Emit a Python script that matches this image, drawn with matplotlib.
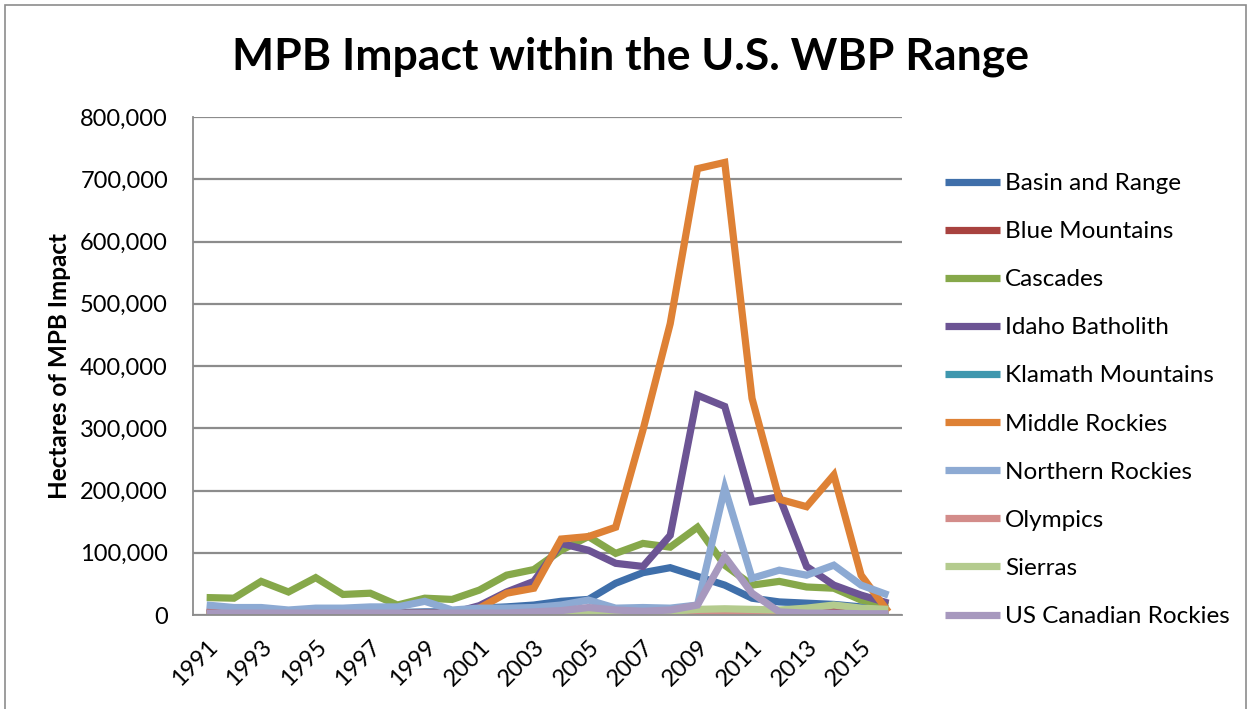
import matplotlib
matplotlib.use("Agg")
import matplotlib.pyplot as plt
from matplotlib.ticker import FuncFormatter, MultipleLocator
from matplotlib.patches import Rectangle

years = list(range(1991, 2017))
series_names = ["Basin and Range", "Blue Mountains", "Cascades", "Idaho Batholith",
                "Klamath Mountains", "Middle Rockies", "Northern Rockies", "Olympics",
                "Sierras", "US Canadian Rockies"]

basin_and_range = [4000, 4000, 4000, 3000, 3000, 3000, 4000, 4000, 5000, 5000, 11000, 13000, 16000,
                   22000, 25000, 51000, 68000, 76000, 62000, 48000, 27000, 21000, 19000, 17000, 13000, 10000]
blue_mountains = [5000, 4000, 4000, 3000, 3000, 3000, 3000, 3000, 3000, 3000, 3000, 3000, 3000,
                  4000, 4000, 5000, 6000, 7000, 8000, 7000, 6000, 4000, 5000, 10000, 6000, 4000]
cascades = [28000, 27000, 54000, 37000, 60000, 33000, 35000, 16000, 27000, 25000, 40000, 64000, 73000,
            104000, 126000, 99000, 115000, 109000, 141000, 80000, 48000, 54000, 45000, 43000, 24000, 16000]
idaho_batholith = [2000, 2000, 2000, 2000, 2000, 2000, 2000, 2000, 2000, 3000, 15000, 37000, 54000,
                   115000, 104000, 83000, 78000, 128000, 353000, 335000, 182000, 190000, 78000, 48000, 32000, 19000]
klamath_mountains = [500] * 26
middle_rockies = [1000, 1000, 1000, 1000, 1000, 1000, 1000, 1000, 1000, 1000, 11000, 35000, 43000,
                  122000, 126000, 141000, 297000, 468000, 717000, 727000, 348000, 186000, 174000, 225000, 64000, 5000]
northern_rockies = [16000, 12000, 12000, 8000, 11000, 11000, 13000, 13000, 22000, 8000, 11000, 11000, 12000,
                    16000, 24000, 11000, 12000, 11000, 16000, 204000, 59000, 72000, 64000, 80000, 48000, 32000]
olympics = [3000, 2000, 2000, 2000, 2000, 2000, 2000, 2000, 2000, 2000, 2000, 2000, 2000,
            2000, 2000, 1000, 1000, 1000, 1000, 1000, 1000, 1000, 1000, 1000, 1000, 1000]
sierras = [0, 0, 0, 0, 0, 0, 0, 0, 0, 0, 0, 0, 0,
           1000, 2000, 4000, 5000, 6000, 9000, 10000, 9000, 8000, 11000, 16000, 11000, 9000]
us_canadian_rockies = [3000, 3000, 3000, 3000, 3000, 3000, 3000, 3000, 3000, 3000, 3000, 3000, 5000,
                       7000, 12000, 8000, 6000, 8000, 16000, 94000, 35000, 5000, 3000, 3000, 2000, 2000]

all_series = [basin_and_range, blue_mountains, cascades, idaho_batholith, klamath_mountains,
              middle_rockies, northern_rockies, olympics, sierras, us_canadian_rockies]
colors = ["#3F6FAA", "#A8423F", "#86A84A", "#6C5494", "#3F97AE",
          "#DE8135", "#8DAAD3", "#D38C8A", "#B4CB8E", "#A798BE"]

plt.rcParams['font.family'] = ['Lato', 'DejaVu Sans']

fig = plt.figure(figsize=(12.53, 7.09), dpi=100)
ax = fig.add_axes([193/1253, 1-615/709, (902-193)/1253, (615-117)/709])

x = list(range(len(years)))
for vals, name, c in zip(all_series, series_names, colors):
    ax.plot(x, vals, color=c, lw=5.2, label=name, solid_joinstyle='miter', solid_capstyle='butt')

ax.set_xlim(-0.5, len(years) - 0.5)
ax.set_ylim(0, 800000)
ax.yaxis.set_major_locator(MultipleLocator(100000))
ax.yaxis.set_major_formatter(FuncFormatter(lambda v, p: f"{int(v):,}"))
ax.grid(axis='y', color='#8C8C8C', lw=1.6)
ax.set_axisbelow(True)
for s in ['top', 'right']:
    ax.spines[s].set_visible(False)
for s in ['left', 'bottom']:
    ax.spines[s].set_color('#8C8C8C')
    ax.spines[s].set_linewidth(1.3)
ax.tick_params(axis='y', length=0, labelsize=17, pad=18)
ax.tick_params(axis='x', length=0, labelsize=17, pad=15)

tick_idx = list(range(0, len(years), 2))
ax.set_xticks(tick_idx)
ax.set_xticklabels([str(years[i]) for i in tick_idx], rotation=45, ha='right', va='top',
                   rotation_mode='anchor')

fig.text(60/1253, 1-366/709, "Hectares of MPB Impact", rotation=90, ha='center', va='center',
         fontsize=17.5, fontweight='bold')
fig.text(631/1253, 1-57/709, "MPB Impact within the U.S. WBP Range", ha='center', va='center',
         fontsize=32, fontweight='bold')

leg = ax.legend(loc='upper left', bbox_to_anchor=(945/1253, 1-173/709), bbox_transform=fig.transFigure,
                frameon=False, fontsize=17.5, handlelength=2.26, handletextpad=0.2, labelspacing=1.115,
                borderaxespad=0, borderpad=0)

fig.patches.append(Rectangle((5/1253, -0.1), 1241/1253, 1.1 - 5/709, transform=fig.transFigure,
                             fill=False, edgecolor='#8C8C8C', lw=1.2))

fig.savefig("out.png", dpi=100)
